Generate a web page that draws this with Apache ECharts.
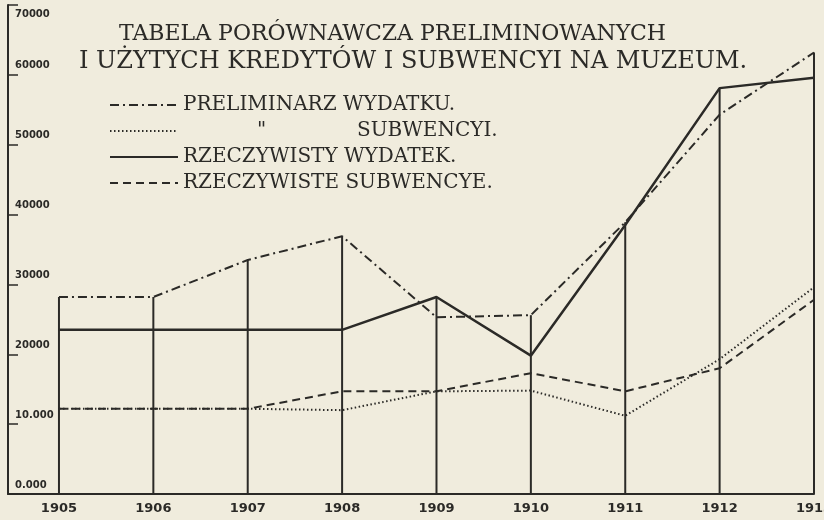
<!DOCTYPE html>
<html>
<head>
<meta charset="utf-8">
<style>
html,body{margin:0;padding:0;background:#f0ecdd;}
#chart{width:824px;height:520px;}
</style>
<script src="https://cdn.jsdelivr.net/npm/echarts@6/dist/echarts.min.js"></script>
</head>
<body>
<div id="chart"></div>
<script>
const years = [1905, 1906, 1907, 1908, 1909, 1910, 1911, 1912, 1913];
const preliminarzWydatku = [28200, 28200, 33500, 36900, 25300, 25600, 38900, 54300, 63200];
const preliminarzSubwencyi = [12200, 12200, 12200, 12000, 14700, 14800, 11200, 19300, 29600];
const rzeczywistyWydatek = [23500, 23500, 23500, 23500, 28200, 19800, 38500, 58100, 59600];
const rzeczywisteSubwencye = [12200, 12200, 12200, 14700, 14700, 17300, 14700, 18000, 27800];
const yTickValues = [0, 10000, 20000, 30000, 40000, 50000, 60000, 70000];
const yTickLabels = ['0.000', '10.000', '20000', '30000', '40000', '50000', '60000', '70000'];
const seriesNames = ['PRELIMINARZ WYDATKU.', 'PRELIMINARZ SUBWENCYI.', 'RZECZYWISTY WYDATEK.', 'RZECZYWISTE SUBWENCYE.'];
const titleLines = ['TABELA PORÓWNAWCZA PRELIMINOWANYCH', 'I UŻYTYCH KREDYTÓW I SUBWENCYI NA MUZEUM.'];

const ink = '#2b2a27';
const allSeries = [preliminarzWydatku, preliminarzSubwencyi, rzeczywistyWydatek, rzeczywisteSubwencye];
const dropLines = years.map((y, i) => [y, Math.max(...allSeries.map(s => s[i]))]);
const pairs = arr => years.map((y, i) => [y, arr[i]]);

const chart = echarts.init(document.getElementById('chart'), null, {renderer: 'canvas'});
const textFont = "'DejaVu Serif', serif";
chart.setOption({
  animation: false,
  backgroundColor: '#f0ecdd',
  title: [
    {text: titleLines[0], left: 114, top: 18, textStyle: {fontFamily: textFont, fontWeight: 'normal', fontSize: 22, color: ink}},
    {text: titleLines[1], left: 74, top: 45, textStyle: {fontFamily: textFont, fontWeight: 'normal', fontSize: 24, color: ink}}
  ],
  legend: {
    orient: 'vertical',
    left: 104,
    top: 89,
    itemWidth: 68,
    itemHeight: 14,
    itemGap: 4,
    data: seriesNames,
    itemStyle: {opacity: 0},
    formatter: name => name === seriesNames[1] ? '{gap|}{d|"}{t|SUBWENCYI.}' : name,
    textStyle: {
      fontFamily: textFont, fontSize: 20, color: ink, lineHeight: 22,
      rich: {
        gap: {width: 74},
        d: {width: 100, fontStyle: 'italic', fontFamily: textFont, fontSize: 20, color: ink},
        t: {fontFamily: textFont, fontSize: 20, color: ink}
      }
    }
  },
  grid: {left: 8, right: 10, top: 5, bottom: 26, containLabel: false, outerBoundsMode: 'none'},
  xAxis: {
    type: 'value',
    min: 1904.46,
    max: 1913,
    axisLine: {show: true, lineStyle: {color: ink, width: 2}},
    axisTick: {show: false},
    splitLine: {show: false},
    axisLabel: {
      customValues: years,
      formatter: v => String(v),
      color: ink, fontFamily: "'DejaVu Sans', sans-serif", fontWeight: 'bold', fontSize: 13, margin: 8
    }
  },
  yAxis: {
    type: 'value',
    min: 0,
    max: 70000,
    interval: 10000,
    axisLine: {show: true, lineStyle: {color: ink, width: 2}},
    axisTick: {show: true, inside: true, length: 10, lineStyle: {color: ink, width: 1.5}},
    splitLine: {show: false},
    axisLabel: {
      inside: true,
      margin: 7,
      color: ink, fontFamily: "'DejaVu Sans', sans-serif", fontWeight: 'bold', fontSize: 10,
      lineHeight: 18,
      verticalAlign: 'middle',
      formatter: v => {
        const lbl = yTickLabels[yTickValues.indexOf(v)];
        return v === 70000 ? ' \n' + lbl : lbl + '\n ';
      }
    }
  },
  series: [
    {type: 'bar', data: dropLines, barWidth: 2, itemStyle: {color: ink}, silent: true, z: 1},
    {name: seriesNames[0], type: 'line', data: pairs(preliminarzWydatku), symbol: 'none',
      lineStyle: {color: ink, width: 2, type: [9, 4, 2, 4]}, itemStyle: {color: ink}, z: 3},
    {name: seriesNames[1], type: 'line', data: pairs(preliminarzSubwencyi), symbol: 'none',
      lineStyle: {color: ink, width: 2, type: [1.5, 2.5]}, itemStyle: {color: ink}, z: 3},
    {name: seriesNames[2], type: 'line', data: pairs(rzeczywistyWydatek), symbol: 'none',
      lineStyle: {color: ink, width: 2.5, type: 'solid'}, itemStyle: {color: ink}, z: 4},
    {name: seriesNames[3], type: 'line', data: pairs(rzeczywisteSubwencye), symbol: 'none',
      lineStyle: {color: ink, width: 2, type: [8, 5]}, itemStyle: {color: ink}, z: 3}
  ]
});
</script>
</body>
</html>
